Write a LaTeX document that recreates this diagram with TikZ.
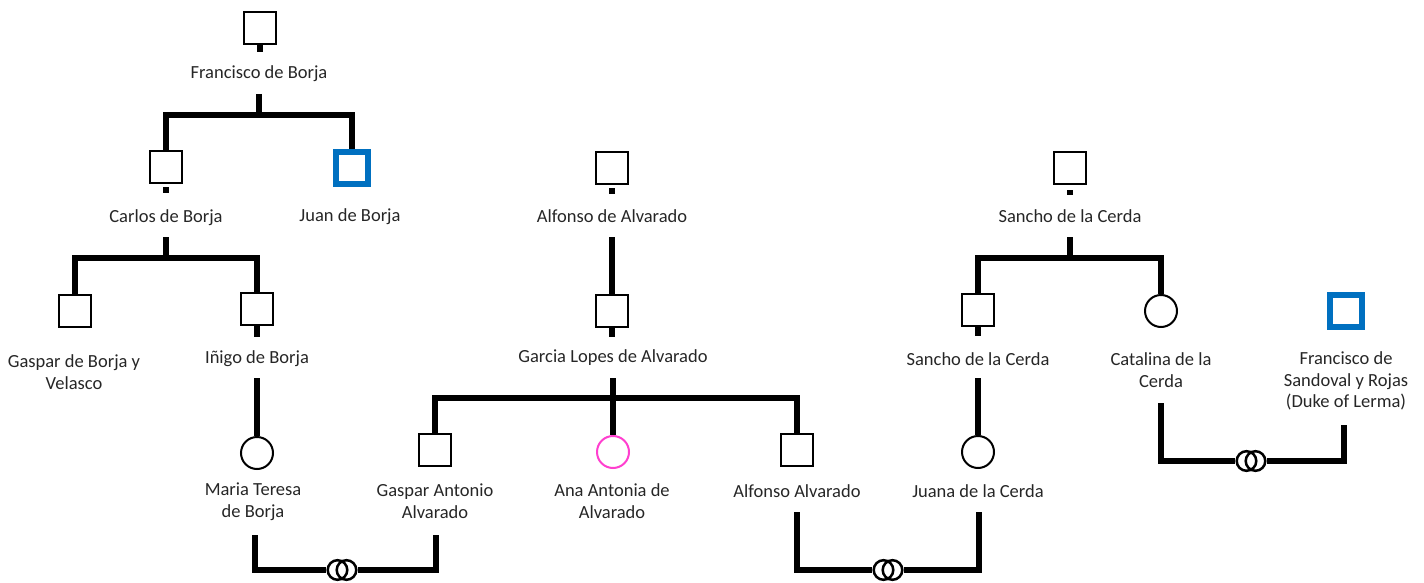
\documentclass[tikz,border=0pt]{standalone}
\usepackage{fontspec}
\setmainfont{Carlito}
\usetikzlibrary{calc}
\definecolor{lblue}{HTML}{0070C0}
\definecolor{lpink}{HTML}{FF3FCF}
\definecolor{txt}{HTML}{262626}
\begin{document}
\begin{tikzpicture}[x=1pt,y=-1pt,
  male/.style={draw=black,line width=2.3pt,minimum size=32pt,inner sep=0pt,fill=white},
  maleblue/.style={draw=lblue,line width=6pt,minimum size=32pt,inner sep=0pt,fill=white},
  female/.style={circle,draw=black,line width=2pt,minimum size=32pt,inner sep=0pt,fill=white},
  femalepink/.style={female,draw=lpink},
  lbl/.style={text=txt,align=center,font=\fontsize{18.5}{21.8}\selectfont,inner sep=0pt},
  ln/.style={line width=5.5pt,line join=miter},
  rings/.style={minimum width=31pt,minimum height=22pt,inner sep=0pt},
  ring/.style={line width=2.5pt}]
\useasboundingbox (0,0) rectangle (1424,583);

% persons
\node[male] (fb) at (260,28) {};
\node[male] (cb) at (166,167) {};
\node[maleblue] (jb) at (352,168) {};
\node[male] (gb) at (75,311) {};
\node[male] (ib) at (257,309) {};
\node[female] (mt) at (257,453) {};
\node[male] (aa) at (612,168) {};
\node[male] (ga) at (612,311) {};
\node[male] (gaa) at (435,450) {};
\node[femalepink] (ana) at (613,452) {};
\node[male] (alf) at (797,450) {};
\node[male] (sc) at (1070,168) {};
\node[male] (sl) at (978,310) {};
\node[female] (cat) at (1161,311) {};
\node[female] (jn) at (978,452) {};
\node[maleblue] (fs) at (1346,311) {};

% labels
\node[lbl] (fbL) at (259,74) {Francisco de Borja};
\node[lbl] (cbL) at (166,218) {Carlos de Borja};
\node[lbl] (jbL) at (350,217) {Juan de Borja};
\node[lbl] (gbL) at (74,372.5) {Gaspar de Borja y\\Velasco};
\node[lbl] (ibL) at (257,359) {Iñigo de Borja};
\node[lbl] (mtL) at (253,501.5) {Maria Teresa\\de Borja};
\node[lbl] (aaL) at (612,216) {Alfonso de Alvarado};
\node[lbl] (gaL) at (613,358) {Garcia Lopes de Alvarado};
\node[lbl] (gaaL) at (435,501.5) {Gaspar Antonio\\Alvarado};
\node[lbl] (anaL) at (612,501.5) {Ana Antonia de\\Alvarado};
\node[lbl] (alfL) at (797,491) {Alfonso Alvarado};
\node[lbl] (scL) at (1070,216) {Sancho de la Cerda};
\node[lbl] (slL) at (978,359) {Sancho de la Cerda};
\node[lbl] (catL) at (1161,370) {Catalina de la\\Cerda};
\node[lbl] (jnL) at (978,491) {Juana de la Cerda};
\node[lbl] (fsL) at (1346,381) {Francisco de\\Sandoval y Rojas\\(Duke of Lerma)};

% marriage rings
\node[rings] (m1) at (342,570) {};
\node[rings] (m2) at (888,570) {};
\node[rings] (m3) at (1251,461) {};
\foreach \m in {m1,m2,m3}{
  \draw[ring] ($(\m)+(-4.5,0)$) circle[radius=9.8pt];
  \draw[ring] ($(\m)+(4.5,0)$) circle[radius=9.8pt];
}

% junction coordinates
\coordinate (fbD) at (259,94);   \coordinate (fbJ) at (259,115);
\coordinate (cbD) at (166,237);  \coordinate (cbJ) at (166,258);
\coordinate (ibD) at (257,378);
\coordinate (aaD) at (612,237);
\coordinate (gaD) at (613,378);  \coordinate (gaJ) at (613,398);
\coordinate (scD) at (1070,237); \coordinate (scJ) at (1070,258);
\coordinate (slD) at (978,378);
\coordinate (mtD) at (255,535);  \coordinate (gaaD) at (436,535);
\coordinate (alfD) at (797,512); \coordinate (jnD) at (979,512);
\coordinate (catD) at (1161,403); \coordinate (fsD) at (1344,425);

% stubs under squares
\draw[ln] (fb.south) -- ++(0,7);
\draw[ln] ([yshift=-3pt]cb.south) -- ++(0,6);
\draw[ln] (ib.south) -- ++(0,11);
\draw[ln] ([yshift=-3pt]aa.south) -- ++(0,6);
\draw[ln] (ga.south) -- ++(0,9);
\draw[ln] ([yshift=-5pt]sc.south) -- ++(0,5);
\draw[ln] (sl.south) -- ++(0,9);

% descent lines
\draw[ln] (fbD) -- (fbJ);
\draw[ln] (cb.north) -- (cb.north |- fbJ) -- (jb.north |- fbJ) -- (jb.north);
\draw[ln] (cbD) -- (cbJ);
\draw[ln] (gb.north) -- (gb.north |- cbJ) -- (ib.north |- cbJ) -- (ib.north);
\draw[ln] (ibD) -- (mt.north);
\draw[ln] (aaD) -- (ga.north);
\draw[ln] (gaD) -- (ana.north);
\draw[ln] (gaa.north) -- (gaa.north |- gaJ) -- (alf.north |- gaJ) -- (alf.north);
\draw[ln] (scD) -- (scJ);
\draw[ln] (sl.north) -- (sl.north |- scJ) -- (cat.north |- scJ) -- (cat.north);
\draw[ln] (slD) -- (jn.north);

% marriage lines
\draw[ln] (mtD) -- (mtD |- m1) -- (m1.west);
\draw[ln] (m1.east) -- (gaaD |- m1) -- (gaaD);
\draw[ln] (alfD) -- (alfD |- m2) -- (m2.west);
\draw[ln] (m2.east) -- (jnD |- m2) -- (jnD);
\draw[ln] (catD) -- (catD |- m3) -- (m3.west);
\draw[ln] (m3.east) -- (fsD |- m3) -- (fsD);
\end{tikzpicture}
\end{document}
